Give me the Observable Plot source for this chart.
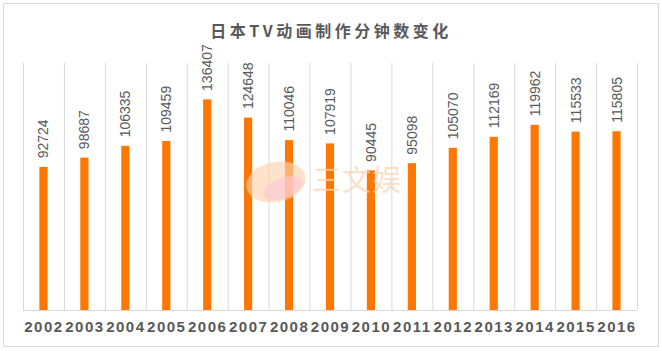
<!DOCTYPE html>
<html>
<head>
<meta charset="utf-8">
<script src="https://cdn.jsdelivr.net/npm/d3@7"></script>
<script src="https://cdn.jsdelivr.net/npm/@observablehq/plot@0.6"></script>
<style>
  body { margin: 0; background: #fff; }
  #wrap { position: relative; width: 662px; height: 351px; overflow: hidden; font-family: "Liberation Sans", Arial, sans-serif; }
  #border { position: absolute; left: 3px; top: 3px; width: 654px; height: 342px; border: 1px solid #d9d9d9; }
  #title { position: absolute; left: 0; width: 662px; top: 19px; text-align: center; font-family: "Noto Sans CJK SC", sans-serif; font-weight: bold; font-size: 16px; line-height: 22px; letter-spacing: 3.5px; color: #595959; }
  #chart { position: absolute; left: 0; top: 40px; }
  #wm { position: absolute; left: 312px; top: 160px; font-family: "Noto Sans CJK SC", sans-serif; font-size: 29px; line-height: 36px; color: #fbd3b0; opacity: 0.7; letter-spacing: 1px; }
  #logo { position: absolute; left: 246px; top: 162px; width: 60px; height: 40px; border-radius: 50%; background: #fdd3ad; opacity: 0.65; transform: rotate(-12deg); }
  #logo2 { position: absolute; left: 262px; top: 178px; width: 42px; height: 20px; border-radius: 50%; background: #fcc6d6; opacity: 0.6; transform: rotate(-20deg); }
  .yr text { letter-spacing: 1.5px; }
</style>
</head>
<body>
<div id="wrap">
  <div id="border"></div>
  <div id="title">日本TV动画制作分钟数变化</div>
  <div id="chart"></div>
  <div id="logo"></div>
  <div id="logo2"></div>
  <div id="wm">三文娱</div>
</div>
<script>
const years = ["2002","2003","2004","2005","2006","2007","2008","2009","2010","2011","2012","2013","2014","2015","2016"];
const minutes = [92724, 98687, 106335, 109459, 136407, 124648, 110046, 107919, 90445, 95098, 105070, 112169, 119962, 115533, 115805];
const data = years.map((y, i) => ({year: y, value: minutes[i]}));

const step = (662 - 23 - 25) / years.length;

const plot = Plot.plot({
  width: 662,
  height: 311,
  marginLeft: 23,
  marginRight: 25,
  marginTop: 23,
  marginBottom: 41,
  style: {fontFamily: "'Liberation Sans', Arial, sans-serif", background: "transparent"},
  x: {domain: years, paddingInner: 0.8, paddingOuter: 0.4, round: false, axis: null},
  y: {domain: [0, 160000], axis: null},
  marks: [
    Plot.ruleX(years, {x: d => d, y1: 0, y2: 160000, dx: -step / 2, stroke: "#d9d9d9", strokeWidth: 1}),
    Plot.ruleX([years[years.length - 1]], {x: d => d, y1: 0, y2: 160000, dx: step / 2, stroke: "#d9d9d9", strokeWidth: 1}),
    Plot.ruleY([0], {stroke: "#d9d9d9", strokeWidth: 1}),
    Plot.barY(data, {x: "year", y: "value", fill: "#ff7700"}),
    Plot.text(data, {x: "year", y: "value", text: d => String(d.value), rotate: -90, textAnchor: "start", dy: -9, fontSize: 14, fill: "#595959"}),
    Plot.axisX({className: "yr", tickSize: 0, tickPadding: 11, fontSize: 15, fontWeight: "bold", fill: "#595959", label: null})
  ]
});
document.getElementById("chart").appendChild(plot);
</script>
</body>
</html>
